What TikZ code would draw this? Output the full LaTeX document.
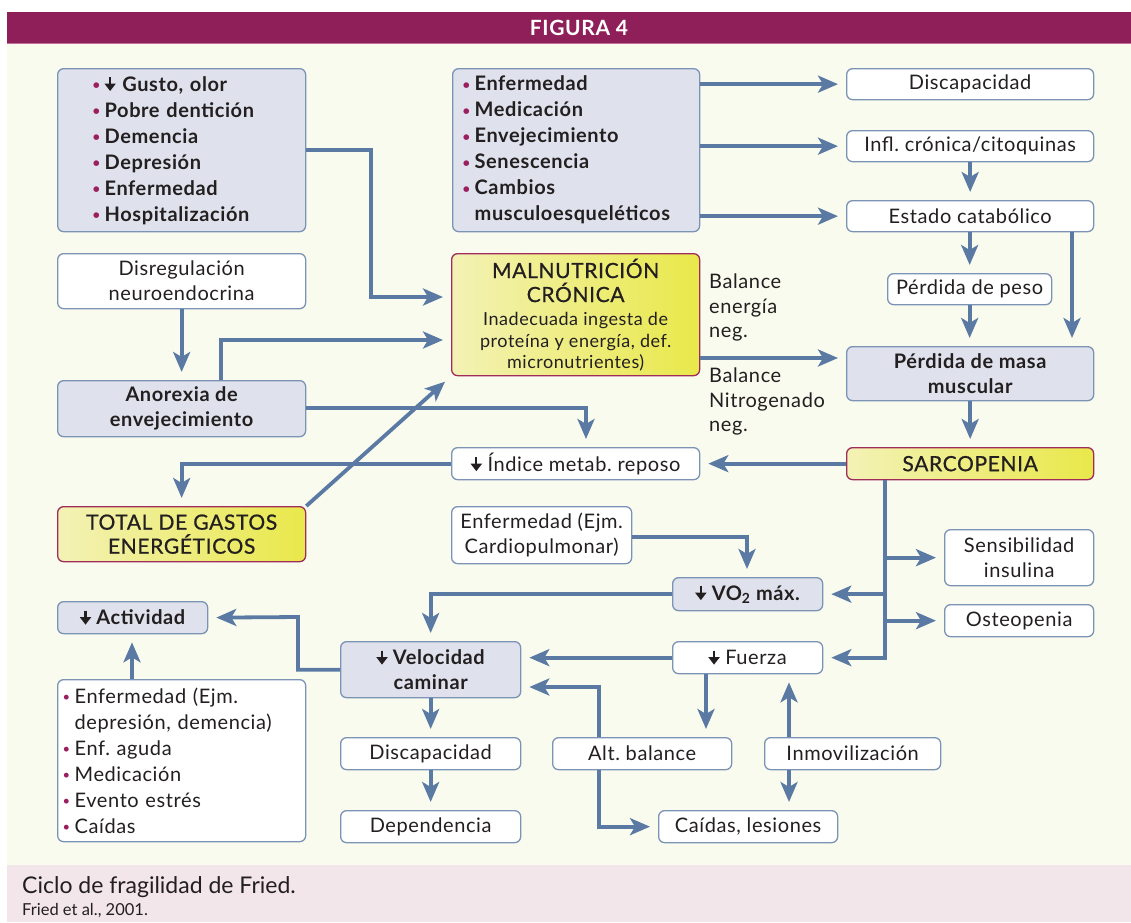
\documentclass[tikz,border=0pt]{standalone}
\usepackage{fontspec}
\setmainfont{Lato}[LetterSpace=3]
\newfontfamily\semib{Lato}[FakeBold=0.7,LetterSpace=3]
\newfontfamily\capfont{Lato}
\usetikzlibrary{arrows.meta,calc}
\definecolor{magc}{HTML}{8F1F58}
\definecolor{magline}{HTML}{C0709A}
\definecolor{creamc}{HTML}{FAFBEF}
\definecolor{capc}{HTML}{F2E6EA}
\definecolor{grayf}{HTML}{DFE2EC}
\definecolor{bordc}{HTML}{7B93B5}
\definecolor{arrc}{HTML}{5A7AA3}
\definecolor{bulc}{HTML}{9B1F5E}
\definecolor{yl}{HTML}{F3F2B6}
\definecolor{yr}{HTML}{E9E84A}
\definecolor{yb}{HTML}{A02C5C}
\definecolor{txtc}{HTML}{231F20}
\frenchspacing
\newcommand\dnarr{\tikz[baseline=0pt]\draw[draw=txtc,fill=txtc,line width=2.2pt,-{Triangle[length=7.5pt,width=11pt]}] (0pt,14pt)--(0pt,0pt);}
\newcommand\bul{\makebox[12pt][l]{\textcolor{bulc}{\fontsize{13}{13}\selectfont\raisebox{1.5pt}{•}}}}
\newcommand\ind{\hspace*{12pt}}
\newcommand\mkbox[7]{\node[#6, minimum width={(#4-#2)*1pt}, minimum height={(#5-#3)*1pt}, anchor=north west] (#1) at (#2,#3) {#7};}
\tikzset{
  box/.style={draw=bordc, line width=1.3pt, rounded corners=6pt, fill=white, inner sep=0pt, align=center, text=txtc, font=\fontsize{20}{25}\selectfont},
  gbox/.style={box, fill=grayf, font=\fontsize{20}{25}\selectfont\bfseries},
  ybox/.style={box, draw=yb, left color=yl, right color=yr, font=\fontsize{21}{24}\selectfont\semib},
  conn/.style={draw=arrc, line width=3.8pt, shorten >=8pt, -{Stealth[length=20pt,width=17pt,inset=5pt]}},
  lbl/.style={align=left, text=txtc, inner sep=0pt, font=\fontsize{20}{24.5}\selectfont, anchor=north west}
}
\begin{document}
\begin{tikzpicture}[x=1pt,y=-1pt]
\useasboundingbox (0,0) rectangle (1131,922);
\fill[white] (0,0) rectangle (1131,922);
\fill[magc] (7,12) rectangle (1131,43);
\fill[creamc] (7,43) rectangle (1131,865);
\draw[magline, line width=1pt] (7,43.5) -- (1131,43.5);
\fill[capc] (7,865) rectangle (1131,922);
\node[text=white, font=\fontsize{21}{24}\selectfont\bfseries] (title) at (579,28) {FIGURA 4};
\node[anchor=west, text=txtc, font=\fontsize{23}{26}\selectfont\capfont, inner sep=0pt] (cap1) at (22,887) {Ciclo de fragilidad de Fried.};
\node[anchor=west, text=txtc, font=\fontsize{16.5}{18}\selectfont\capfont, inner sep=0pt] (cap2) at (22,911) {Fried et al., 2001.};

% list boxes
\mkbox{A}{57}{68}{305}{231}{gbox, align=left, text width=178pt, inner xsep=35pt, font=\fontsize{20}{26}\selectfont\bfseries}{\bul\dnarr\ Gusto, olor\\\bul Pobre dentición\\\bul Demencia\\\bul Depresión\\\bul Enfermedad\\\bul Hospitalización}
\mkbox{B}{452}{68}{699}{231}{gbox, align=left, text width=227pt, inner xsep=10pt, font=\fontsize{20}{26}\selectfont\bfseries}{\bul Enfermedad\\\bul Medicación\\\bul Envejecimiento\\\bul Senescencia\\\bul Cambios\\\ind musculoesqueléticos}
\mkbox{C}{57}{679}{305}{841}{box, align=left, text width=238pt, inner xsep=5pt, font=\fontsize{20}{26}\selectfont}{\bul Enfermedad (Ejm.\\\ind depresión, demencia)\\\bul Enf. aguda\\\bul Medicación\\\bul Evento estrés\\\bul Caídas}

% right column
\mkbox{Disc1}{846}{68}{1093}{99}{box}{Discapacidad}
\mkbox{Infl}{846}{130}{1093}{161}{box}{Infl. crónica/citoquinas}
\mkbox{Estado}{846}{200}{1093}{231}{box}{Estado catabólico}
\mkbox{Peso}{887}{273}{1051}{304}{box}{Pérdida de peso}
\mkbox{Masa}{846}{346}{1093}{400}{gbox}{Pérdida de masa\\muscular}
\mkbox{Sarc}{846}{447}{1093}{479}{ybox}{SARCOPENIA}

% left / middle
\mkbox{Disreg}{57}{253}{305}{308}{box}{Disregulación\\neuroendocrina}
\mkbox{Malnu}{451}{253}{699}{375}{ybox}{MALNUTRICIÓN\\CRÓNICA\\[-1pt]{\fontsize{18}{23}\selectfont\normalfont Inadecuada ingesta de}\\[-2pt]{\fontsize{18}{23}\selectfont\normalfont proteína y energía, def.}\\[-3pt]{\fontsize{18}{23}\selectfont\normalfont micronutrientes)}}
\mkbox{Anor}{57}{380}{305}{436}{gbox}{Anorexia de\\envejecimiento}
\mkbox{Indice}{451}{447}{699}{479}{box}{\dnarr\ Índice metab. reposo}
\mkbox{Total}{57}{506}{305}{561}{ybox}{TOTAL DE GASTOS\\ENERGÉTICOS}
\mkbox{Cardio}{451}{506}{631}{563}{box}{Enfermedad (Ejm.\\Cardiopulmonar)}
\mkbox{VO}{672}{577}{822}{610}{gbox}{\dnarr\ VO\textsubscript{2} máx.}
\mkbox{Sens}{944}{529}{1093}{585}{box}{Sensibilidad\\insulina}
\mkbox{Osteo}{944}{604}{1093}{636}{box}{Osteopenia}
\mkbox{Fuerza}{672}{641}{822}{673}{box}{\dnarr\ Fuerza}
\mkbox{Activ}{57}{601}{207}{633}{gbox}{\dnarr\ Actividad}
\mkbox{Veloc}{340}{641}{520}{697}{gbox}{\dnarr\ Velocidad\\caminar}
\mkbox{Disc2}{340}{737}{520}{769}{box}{Discapacidad}
\mkbox{Dep}{340}{810}{520}{842}{box}{Dependencia}
\mkbox{Alt}{552}{737}{731}{769}{box}{Alt. balance}
\mkbox{Inmov}{764}{737}{940}{769}{box}{Inmovilización}
\mkbox{Caidas}{658}{810}{837}{842}{box}{Caídas, lesiones}

\node[lbl] (bal1) at (709,274) {Balance\\energía\\neg.};
\node[lbl] (bal2) at (709,368) {Balance\\Nitrogenado\\neg.};

% connectors
\draw[conn] (A.east) -| (371,297) -- (Malnu.west |- 0,297);
\draw[conn] (Disreg.south) -- (Anor.north);
\draw[conn] (Anor.north -| 221,0) |- (Malnu.west |- 0,340);
\draw[conn] (Anor.east |- 0,408) -| (Indice.north -| 586,0);
\draw[conn] (Indice.west) -| (Total.north);
\draw[conn] (Total.north east) -- (Malnu.south west);
\draw[conn] (Disc1.west -| B.east) -- (Disc1.west);
\draw[conn] (Infl.west -| B.east) -- (Infl.west);
\draw[conn] (Estado.west -| B.east) -- (Estado.west);
\draw[conn] (Infl.south) -- (Estado.north);
\draw[conn] (Estado.south -| Peso.north) -- (Peso.north);
\draw[conn] (Peso.south) -- (Masa.north -| Peso.south);
\draw[conn] (Estado.south -| 1072,0) -- (Masa.north -| 1072,0);
\draw[conn] (Malnu.east |- 0,358) -- (Masa.west |- 0,358);
\draw[conn] (Masa.south) -- (Sarc.north);
\draw[conn] (Sarc.west) -- (Indice.east);
\draw[conn] (Sarc.south -| 885,0) |- (Fuerza.east);
\draw[conn] (Sens.west -| 885,0) -- (Sens.west);
\draw[conn] (VO.east -| 885,0) -- (VO.east);
\draw[conn] (Osteo.west -| 885,0) -- (Osteo.west);
\draw[conn] (Cardio.east |- 0,537) -| (VO.north -| 747,0);
\draw[conn] (VO.west) -| (Veloc.north);
\draw[conn] (Fuerza.west) -- (Veloc.east |- Fuerza.west);
\draw[conn] (Fuerza.south -| 706,0) -- (Alt.north -| 706,0);
\draw[conn] (Alt.north -| 599,0) |- (Veloc.east |- 0,687);
\draw[conn] (Alt.south -| 599,0) |- (Caidas.west);
\draw[conn] (Inmov.north -| 789,0) -- (Fuerza.south -| 789,0);
\draw[conn] (Inmov.south -| 789,0) -- (Caidas.north -| 789,0);
\draw[conn] (Veloc.west) -| (298,617) -- (Activ.east);
\draw[conn] (C.north -| 132,0) -- (Activ.south -| 132,0);
\draw[conn] (Veloc.south) -- (Disc2.north);
\draw[conn] (Disc2.south) -- (Dep.north);
\end{tikzpicture}
\end{document}
